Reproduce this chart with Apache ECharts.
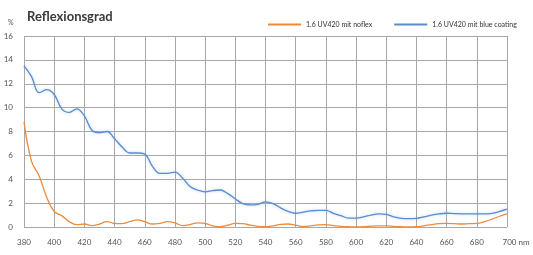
<!DOCTYPE html>
<html><head><meta charset="utf-8">
<script src="https://cdn.jsdelivr.net/npm/echarts@6/dist/echarts.min.js"></script>
<style>html,body{margin:0;padding:0;background:#fff}#c{width:533px;height:255px}</style>
</head><body><div id="c"></div>
<script>
const wavelengths = [380,385,390,395,400,405,410,415,420,425,430,435,440,445,450,455,460,465,470,475,480,485,490,495,500,505,510,515,520,525,530,535,540,545,550,555,560,565,570,575,580,585,590,595,600,605,610,615,620,625,630,635,640,645,650,655,660,665,670,675,680,685,690,695,700];
const noflex = [8.8,5.5,4.3,2.5,1.3,0.95,0.45,0.2,0.25,0.12,0.25,0.45,0.3,0.28,0.45,0.6,0.45,0.25,0.3,0.45,0.35,0.12,0.2,0.35,0.3,0.1,0.02,0.15,0.3,0.28,0.15,0.05,0.02,0.1,0.22,0.25,0.15,0.05,0.1,0.18,0.2,0.12,0.05,0.02,0.0,0.02,0.08,0.1,0.1,0.05,0.02,0.0,0.02,0.1,0.2,0.28,0.3,0.28,0.25,0.28,0.3,0.45,0.65,0.9,1.1];
const blueCoating = [13.5,12.6,11.25,11.5,11.1,9.9,9.6,9.9,9.3,8.1,7.9,8.0,7.4,6.7,6.2,6.2,6.1,5.1,4.5,4.5,4.6,4.1,3.4,3.1,2.95,3.05,3.1,2.8,2.35,1.95,1.85,1.9,2.1,1.95,1.6,1.3,1.15,1.25,1.35,1.4,1.4,1.15,0.95,0.75,0.75,0.85,1.0,1.1,1.05,0.85,0.72,0.7,0.72,0.85,1.0,1.1,1.15,1.12,1.1,1.1,1.1,1.1,1.15,1.3,1.5];
const seriesNames = ['1.6 UV420 mit noflex','1.6 UV420 mit blue coating'];
const titleText = 'Reflexionsgrad';
const unitY = '%';
const unitX = 'nm';

const chart = echarts.init(document.getElementById('c'));
const pairs = arr => wavelengths.map((w,i)=>[w,arr[i]]);
const font = 'Lato, "Noto Sans", sans-serif';
chart.setOption({
  animation:false,
  textStyle:{fontFamily:font},
  title:{text:titleText,left:22,top:5,textStyle:{fontSize:13,fontWeight:'bold',color:'#3a3a3a',fontFamily:font}},
  graphic:[{type:'text',left:8,top:19,style:{text:unitY,fontSize:7,fill:'#555',fontFamily:font}}],
  legend:{left:263,top:16,width:270,itemWidth:33,itemHeight:2,itemGap:22,
    textStyle:{fontSize:7,color:'#333',fontFamily:font},
    data:seriesNames.map(n=>({name:n,icon:'rect'}))},
  grid:{left:24,right:26,top:36,bottom:28},
  xAxis:{type:'value',min:380,max:700,interval:20,
    axisLine:{show:false},axisTick:{show:false},
    axisLabel:{fontSize:8,color:'#555',margin:11,
      formatter:v=>v===700?'{last|'+v+' '+unitX+'}':String(v),
      rich:{last:{fontSize:8,color:'#555',padding:[0,0,0,18]}}},
    splitLine:{show:true,lineStyle:{color:'#a8a8a8',width:1}}},
  yAxis:{type:'value',min:0,max:16,interval:2,
    axisLine:{show:false},axisTick:{show:false},
    axisLabel:{fontSize:8,color:'#555',margin:11},
    splitLine:{show:true,lineStyle:{color:'#a8a8a8',width:1}}},
  series:[
    {name:seriesNames[0],type:'line',smooth:0.4,symbol:'none',data:pairs(noflex),
      itemStyle:{color:'#ef8a3c'},lineStyle:{color:'#ef8a3c',width:1.3}},
    {name:seriesNames[1],type:'line',smooth:0.4,symbol:'none',data:pairs(blueCoating),
      itemStyle:{color:'#5a8dcc'},lineStyle:{color:'#5a8dcc',width:1.3,shadowColor:'rgba(120,170,230,0.5)',shadowBlur:3}}
  ]
});
</script></body></html>
